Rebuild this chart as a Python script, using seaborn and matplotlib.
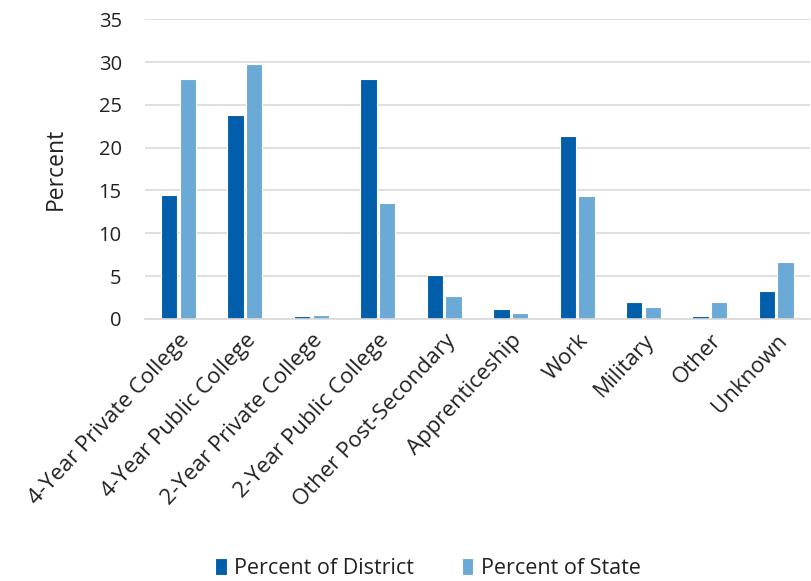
import pandas as pd
import matplotlib
matplotlib.use("Agg")
import matplotlib.pyplot as plt
import seaborn as sns

# Werte
categories = ["4-Year Private College", "4-Year Public College", "2-Year Private College",
              "2-Year Public College", "Other Post-Secondary", "Apprenticeship",
              "Work", "Military", "Other", "Unknown"]
district = [14.5, 23.8, 0.3, 28.0, 5.1, 1.2, 21.4, 2.0, 0.3, 3.3]
state = [28.0, 29.8, 0.5, 13.5, 2.7, 0.7, 14.3, 1.4, 2.0, 6.6]
series = ["Percent of District", "Percent of State"]
yticks = [0, 5, 10, 15, 20, 25, 30, 35]

df = pd.DataFrame({
    "Category": categories * 2,
    "Value": district + state,
    "Series": [series[0]] * len(categories) + [series[1]] * len(categories),
})

sns.set_style("white")
plt.rcParams["font.family"] = ["Open Sans", "DejaVu Sans"]

fig = plt.figure(figsize=(8.12, 5.81), dpi=100)
ax = fig.add_axes([0.179, 0.451, 0.818, 0.516])

sns.barplot(data=df, x="Category", y="Value", hue="Series", order=categories,
            hue_order=series, palette=["#005EAA", "#6BAAD6"], saturation=1,
            width=0.56, gap=0.12, edgecolor="white", linewidth=0.8, ax=ax)

ax.set_ylim(0, 35)
ax.set_yticks(yticks)
ax.set_xlim(-0.5, len(categories) - 0.5)
ax.yaxis.grid(True, color="#d9d9d9", linewidth=1.2)
ax.set_axisbelow(True)
for s in ["top", "right", "left"]:
    ax.spines[s].set_visible(False)
ax.spines["bottom"].set_color("#d9d9d9")
ax.spines["bottom"].set_linewidth(1.2)
ax.tick_params(axis="y", length=0, labelsize=14.5, colors="#222222", pad=17)
ax.tick_params(axis="x", length=0, labelsize=16, colors="#222222", pad=8)
plt.setp(ax.get_xticklabels(), rotation=47, ha="right", rotation_mode="anchor")
ax.set_xlabel("")
ax.set_ylabel("Percent", fontsize=16.5, labelpad=22, color="#222222")

handles, labels = ax.get_legend_handles_labels()
ax.legend_.remove()
fig.legend(handles, labels, loc="lower center", bbox_to_anchor=(0.527, -0.03), ncol=2,
           frameon=False, fontsize=15.5, handlelength=0.55, handleheight=0.8,
           handletextpad=0.35, columnspacing=2.2, labelcolor="#222222")

fig.savefig("out.png", dpi=100)
